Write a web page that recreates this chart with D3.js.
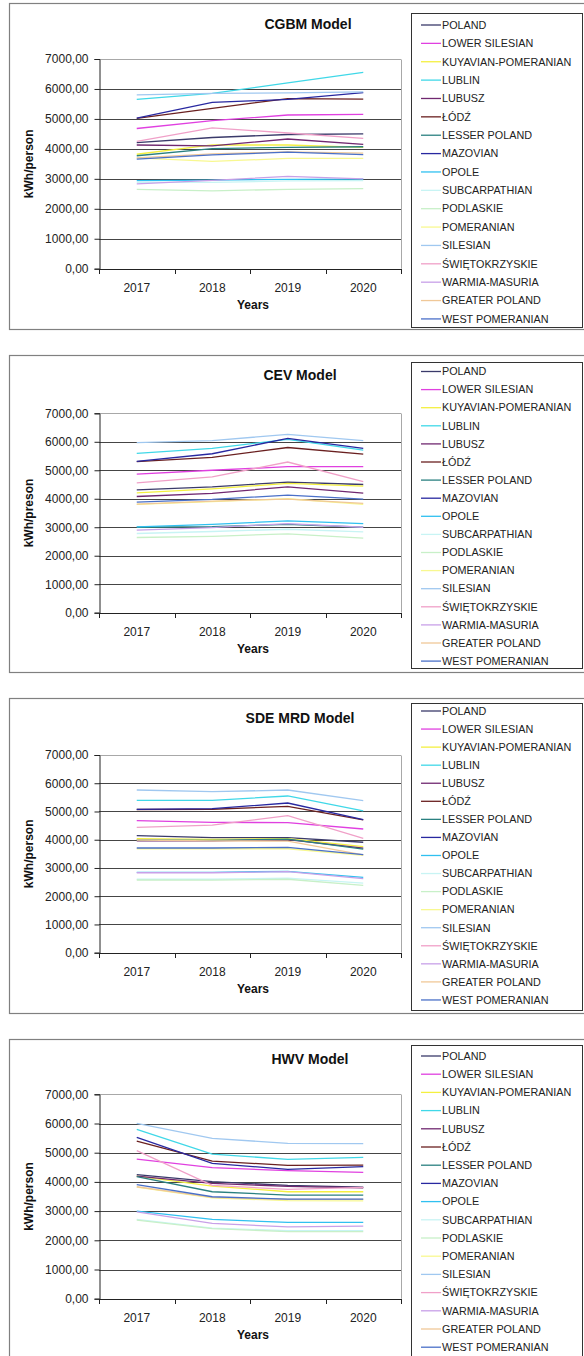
<!DOCTYPE html>
<html><head><meta charset="utf-8">
<script src="https://cdn.jsdelivr.net/npm/d3@7"></script>
<style>body{margin:0;background:#fff} svg{display:block;font-family:"Liberation Sans",Arial,sans-serif}</style>
</head><body>
<svg id="c" width="584" height="1356"></svg>
<script>
const years = ["2017", "2018", "2019", "2020"];
const regions = ["POLAND","LOWER SILESIAN","KUYAVIAN-POMERANIAN","LUBLIN","LUBUSZ","ŁÓDŹ","LESSER POLAND","MAZOVIAN","OPOLE","SUBCARPATHIAN","PODLASKIE","POMERANIAN","SILESIAN","ŚWIĘTOKRZYSKIE","WARMIA-MASURIA","GREATER POLAND","WEST POMERANIAN"];
const regionColors = ["#3a3a6a","#e040e0","#f4f040","#40d8e8","#702870","#6a2020","#2a8080","#2828a0","#30c0f0","#c8f4f4","#c8f0c8","#f8f890","#a0c8f0","#f0a0c8","#c8a0e8","#f0c898","#4a70c8"];
const yTicks = [0, 1000, 2000, 3000, 4000, 5000, 6000, 7000];
const modelTitles = ["CGBM Model", "CEV Model", "SDE MRD Model", "HWV Model"];
const yAxisTitles = ["kWh/person", "kWh/preson", "kWh/person", "kWh/person"];

// rows follow `regions`, columns follow `years`
const cgbmValues = [
  [4210, 4380, 4480, 4500],
  [4680, 4940, 5130, 5150],
  [3820, 4130, 4130, 4050],
  [5650, 5850, 6200, 6550],
  [4130, 4100, 4330, 4150],
  [5020, 5350, 5680, 5660],
  [3770, 4010, 4050, 4070],
  [5030, 5550, 5650, 5880],
  [2940, 2960, 2980, 2990],
  [2880, 2880, 2930, 2940],
  [2650, 2600, 2650, 2670],
  [3700, 3580, 3680, 3680],
  [5800, 5850, 5870, 5900],
  [4250, 4700, 4530, 4350],
  [2830, 2950, 3080, 3000],
  [3700, 3830, 3900, 3860],
  [3660, 3800, 3890, 3810]
];
const cevValues = [
  [4315, 4420, 4585, 4500],
  [4866, 5000, 5125, 5125],
  [4210, 4350, 4540, 4445],
  [5593, 5770, 6086, 5710],
  [4080, 4190, 4420, 4200],
  [5300, 5450, 5800, 5570],
  [3000, 3020, 3100, 3000],
  [5312, 5580, 6120, 5770],
  [3014, 3100, 3225, 3130],
  [2780, 2850, 2930, 2840],
  [2640, 2680, 2770, 2615],
  [3800, 3900, 4000, 3800],
  [5968, 6040, 6260, 6040],
  [4560, 4770, 5290, 4600],
  [2897, 2990, 3130, 3000],
  [3810, 3920, 3990, 3835],
  [3880, 3975, 4130, 3990]
];
const sdeValues = [
  [4145, 4074, 4074, 3910],
  [4675, 4617, 4605, 4380],
  [4040, 4015, 4040, 3755],
  [5395, 5395, 5549, 5018],
  [3960, 3960, 4000, 3700],
  [5070, 5080, 5183, 4700],
  [3990, 3980, 4020, 3670],
  [5077, 5100, 5300, 4710],
  [2846, 2846, 2882, 2670],
  [2600, 2600, 2640, 2460],
  [2575, 2570, 2600, 2386],
  [3680, 3680, 3680, 3450],
  [5761, 5700, 5760, 5383],
  [4440, 4520, 4852, 4050],
  [2830, 2830, 2870, 2620],
  [3990, 3960, 3950, 3460],
  [3708, 3708, 3730, 3470]
];
const hwvValues = [
  [4246, 4006, 3880, 3823],
  [4783, 4486, 4383, 4326],
  [4200, 3857, 3663, 3663],
  [5800, 4954, 4771, 4840],
  [4200, 3950, 3850, 3800],
  [5400, 4714, 4566, 4577],
  [4177, 3663, 3549, 3549],
  [5526, 4634, 4430, 4520],
  [3000, 2714, 2611, 2611],
  [2720, 2420, 2330, 2330],
  [2690, 2400, 2300, 2300],
  [3820, 3450, 3360, 3350],
  [6006, 5491, 5320, 5309],
  [5069, 3880, 3743, 3811],
  [2977, 2577, 2463, 2486],
  [3834, 3470, 3400, 3400],
  [3903, 3491, 3411, 3411]
];
const modelValues = [cgbmValues, cevValues, sdeValues, hwvValues];

// layout (pixel geometry only)
const layouts = [
  {boxTop: 3, boxBottom: 329, plotTop: 59, plotBottom: 268.7, titleX: 308, titleY: 29, legTop: 13, legBottom: 327, legFirst: 25, legStep: 18.37},
  {boxTop: 355, boxBottom: 672, plotTop: 413.3, plotBottom: 612.7, titleX: 300, titleY: 380, legTop: 362, legBottom: 668, legFirst: 371.5, legStep: 18.1},
  {boxTop: 698, boxBottom: 1013, plotTop: 755, plotBottom: 952.7, titleX: 300, titleY: 723, legTop: 703, legBottom: 1010, legFirst: 711, legStep: 18.06},
  {boxTop: 1039, boxBottom: 1370, plotTop: 1094.3, plotBottom: 1298.7, titleX: 310, titleY: 1064, legTop: 1045, legBottom: 1365, legFirst: 1056, legStep: 18.2}
];
const plotLeft = 99, plotRight = 401;

const svg = d3.select("#c");
const fmt = d => d3.format(".2f")(d).replace(".", ",");

modelTitles.forEach((title, mi) => {
  const L = layouts[mi];
  const vals = modelValues[mi];
  const g = svg.append("g");

  g.append("rect").attr("x", 9.5).attr("y", L.boxTop + 0.5)
    .attr("width", 620).attr("height", L.boxBottom - L.boxTop)
    .attr("fill", "#fff").attr("stroke", "#808080").attr("stroke-width", 1.2);

  const x = d3.scaleBand().domain(years).range([plotLeft, plotRight]);
  const y = d3.scaleLinear().domain([0, 7000]).range([L.plotBottom, L.plotTop]);

  // gridlines
  g.append("g").selectAll("line").data(yTicks.filter(t => t > 0)).join("line")
    .attr("x1", plotLeft).attr("x2", plotRight)
    .attr("y1", d => Math.round(y(d)) + 0.5).attr("y2", d => Math.round(y(d)) + 0.5)
    .attr("stroke", d => d === 7000 ? "#a8a8a8" : "#454545").attr("stroke-width", 1);
  // right border of plot area
  g.append("line").attr("x1", plotRight + 0.5).attr("x2", plotRight + 0.5)
    .attr("y1", Math.round(y(7000)) + 0.5).attr("y2", y(0))
    .attr("stroke", "#a8a8a8");

  // y axis
  const ya = g.append("g").attr("transform", `translate(${plotLeft + 0.5},0)`)
    .call(d3.axisLeft(y).tickValues(yTicks).tickFormat(fmt).tickSize(5).tickPadding(6));
  ya.select(".domain").attr("stroke", "#222");
  ya.selectAll(".tick line").attr("stroke", "#222");
  ya.selectAll(".tick text").attr("font-size", 12).attr("fill", "#222")
    .attr("font-family", "Liberation Sans, Arial, sans-serif");

  // x axis labels
  const xa = g.append("g").attr("transform", `translate(0,${Math.round(y(0)) + 0.5})`)
    .call(d3.axisBottom(x).tickSize(0).tickPadding(14));
  xa.select(".domain").remove();
  xa.selectAll(".tick text").attr("font-size", 12).attr("fill", "#222")
    .attr("font-family", "Liberation Sans, Arial, sans-serif");
  g.append("line").attr("x1", plotLeft).attr("x2", plotRight + 1)
    .attr("y1", Math.round(y(0)) + 0.5).attr("y2", Math.round(y(0)) + 0.5).attr("stroke", "#222");
  // category boundary ticks
  const bounds = years.map(yr => x(yr)).concat([x(years[years.length - 1]) + x.step()]);
  g.append("g").selectAll("line").data(bounds).join("line")
    .attr("x1", d => Math.round(d) + 0.5).attr("x2", d => Math.round(d) + 0.5)
    .attr("y1", Math.round(y(0))).attr("y2", Math.round(y(0)) + 5)
    .attr("stroke", "#222");

  // series lines
  const line = d3.line().x((d, i) => x(years[i]) + x.bandwidth() / 2).y(d => y(d));
  g.append("g").selectAll("path").data(vals).join("path")
    .attr("d", d => line(d)).attr("fill", "none")
    .attr("stroke", (d, i) => regionColors[i]).attr("stroke-width", 1.3);

  // titles
  g.append("text").attr("x", L.titleX).attr("y", L.titleY).attr("text-anchor", "middle")
    .attr("font-size", 14).attr("font-weight", "bold").attr("fill", "#111").text(title);
  g.append("text").attr("x", (plotLeft + plotRight) / 2 + 3).attr("y", L.plotBottom + 40)
    .attr("text-anchor", "middle").attr("font-size", 12).attr("font-weight", "bold").attr("fill", "#111").text("Years");
  g.append("text").attr("transform", `translate(33,${(L.plotTop + L.plotBottom) / 2}) rotate(-90)`)
    .attr("text-anchor", "middle").attr("font-size", 12).attr("font-weight", "bold").attr("fill", "#111")
    .text(yAxisTitles[mi]);

  // legend
  g.append("rect").attr("x", 411.5).attr("y", L.legTop + 0.5).attr("width", 171)
    .attr("height", L.legBottom - L.legTop).attr("fill", "#fff").attr("stroke", "#333");
  const lg = g.append("g").selectAll("g").data(regions).join("g")
    .attr("transform", (d, i) => `translate(0,${L.legFirst + i * L.legStep})`);
  lg.append("line").attr("x1", 421).attr("x2", 441).attr("y1", 0).attr("y2", 0)
    .attr("stroke", (d, i) => regionColors[i]).attr("stroke-width", 1.3);
  lg.append("text").attr("x", 442).attr("y", 0).attr("dy", "0.35em")
    .attr("font-size", 10.8).attr("fill", "#222").text(d => d);
});
</script>
</body></html>
